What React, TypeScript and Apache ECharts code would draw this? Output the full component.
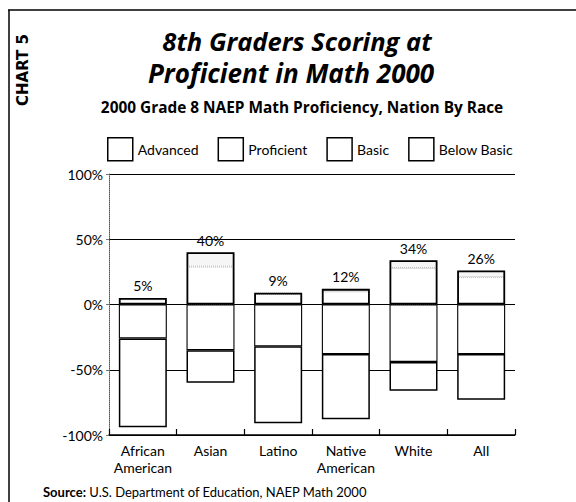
import React, { useEffect, useRef } from "react";
import * as echarts from "echarts";

const categories = ["African\nAmerican", "Asian", "Latino", "Native\nAmerican", "White", "All"];
const advanced = [1, 11, 1, 2, 6, 5];
const proficient = [4, 29, 8, 10, 28, 21];
const basic = [26, 35, 32, 38, 44, 38];
const belowBasic = [68, 25, 59, 50, 22, 35];
const atOrAbove = [5, 40, 9, 12, 34, 26];
const yTicks = { min: -100, max: 100, interval: 50 };

const FONT = "Lato, 'Open Sans', sans-serif";
const HEAD = "'Open Sans', Lato, sans-serif";

export default function App() {
  const ref = useRef<HTMLDivElement>(null);
  useEffect(() => {
    document.body.style.margin = "0";
    const chart = echarts.init(ref.current!, null, { renderer: "svg" });
    const bw = 48;
    const legendStyle = { color: "#fff", borderColor: "#000", borderWidth: 1.5, borderType: "solid" };
    chart.setOption({
      animation: false,
      backgroundColor: "#fff",
      textStyle: { fontFamily: FONT, color: "#000" },
      grid: { left: 109, right: 61, top: 174, bottom: 67 },
      legend: {
        left: 107,
        top: 137,
        padding: 0,
        itemWidth: 25,
        itemHeight: 23,
        itemGap: 19,
        icon: "rect",
        textStyle: { fontSize: 14, color: "#000", fontFamily: FONT },
        data: [
          { name: "Advanced", itemStyle: legendStyle },
          { name: "Proficient", itemStyle: legendStyle },
          { name: "Basic", itemStyle: legendStyle },
          { name: "Below Basic", itemStyle: legendStyle },
        ],
      },
      xAxis: {
        type: "category",
        data: categories,
        axisLine: { onZero: false, lineStyle: { color: "#000", width: 1.5 } },
        axisTick: { show: true, inside: true, length: 6, lineStyle: { color: "#000", width: 1.2 } },
        axisLabel: { interval: 0, fontSize: 14, lineHeight: 17, margin: 7, color: "#000", fontFamily: FONT },
      },
      yAxis: {
        type: "value",
        min: yTicks.min,
        max: yTicks.max,
        interval: yTicks.interval,
        axisLine: { show: true, lineStyle: { color: "#555", width: 1, type: "dotted" } },
        axisTick: { show: true, length: 3, lineStyle: { color: "#777" } },
        axisLabel: { formatter: "{value}%", fontSize: 14, margin: 6, color: "#000", fontFamily: FONT },
        splitLine: { show: true, lineStyle: { color: "#000", width: 1 } },
      },
      series: [
        {
          name: "Proficient",
          type: "bar",
          stack: "all",
          barWidth: bw,
          barGap: "-100%",
          data: proficient,
          itemStyle: { color: "#fff", borderColor: "#bbb", borderWidth: 1, borderType: "dotted" },
        },
        {
          name: "Advanced",
          type: "bar",
          stack: "all",
          barWidth: bw,
          barGap: "-100%",
          data: advanced,
          itemStyle: { color: "#f6f6f6", borderColor: "#bbb", borderWidth: 1, borderType: "dotted" },
        },
        {
          name: "Basic",
          type: "bar",
          stack: "all",
          barWidth: bw,
          barGap: "-100%",
          data: basic.map((v) => -v),
          itemStyle: { color: "#fff", borderColor: "#000", borderWidth: 1.1 },
        },
        {
          name: "Below Basic",
          type: "bar",
          stack: "all",
          barWidth: bw,
          barGap: "-100%",
          data: belowBasic.map((v) => -v),
          itemStyle: { color: "#fff", borderColor: "#000", borderWidth: 1.5 },
        },
        {
          name: "outline",
          type: "bar",
          barWidth: bw,
          barGap: "-100%",
          z: 5,
          data: atOrAbove,
          itemStyle: { color: "rgba(0,0,0,0)", borderColor: "#000", borderWidth: 1.8 },
          label: {
            show: true,
            position: "top",
            distance: 5,
            formatter: "{c}%",
            fontSize: 14,
            color: "#000",
            fontFamily: FONT,
          },
          silent: true,
        },
      ],
      graphic: [
        { type: "line", shape: { x1: 8, y1: 10, x2: 576, y2: 10 }, style: { stroke: "#000", lineWidth: 1.5 } },
        { type: "line", shape: { x1: 9, y1: 10, x2: 9, y2: 502 }, style: { stroke: "#000", lineWidth: 1.5 } },
        {
          type: "text",
          x: 23,
          y: 70,
          rotation: Math.PI / 2,
          style: { text: "CHART 5", font: `bold 15px 'DejaVu Sans', sans-serif`, fill: "#000", align: "center", verticalAlign: "middle" },
        },
        {
          type: "text",
          x: 297,
          y: 41,
          style: { text: "8th Graders Scoring at", font: `italic bold 25.5px ${HEAD}`, fill: "#000", align: "center", verticalAlign: "middle" },
        },
        {
          type: "text",
          x: 291,
          y: 73,
          style: { text: "Proficient in Math 2000", font: `italic bold 26px ${HEAD}`, fill: "#000", align: "center", verticalAlign: "middle" },
        },
        {
          type: "text",
          x: 302,
          y: 107,
          style: { text: "2000 Grade 8 NAEP Math Proficiency, Nation By Race", font: `bold 15.4px ${HEAD}`, fill: "#000", align: "center", verticalAlign: "middle" },
        },
        {
          type: "text",
          x: 43,
          y: 492,
          style: {
            text: "{b|Source:} U.S. Department of Education, NAEP Math 2000",
            font: `13px ${FONT}`,
            fill: "#000",
            align: "left",
            verticalAlign: "middle",
            rich: { b: { fontWeight: "bold", fontSize: 13, fontFamily: FONT, fill: "#000" } },
          },
        },
      ],
    });
    return () => chart.dispose();
  }, []);
  return <div ref={ref} style={{ width: 576, height: 502 }} />;
}
